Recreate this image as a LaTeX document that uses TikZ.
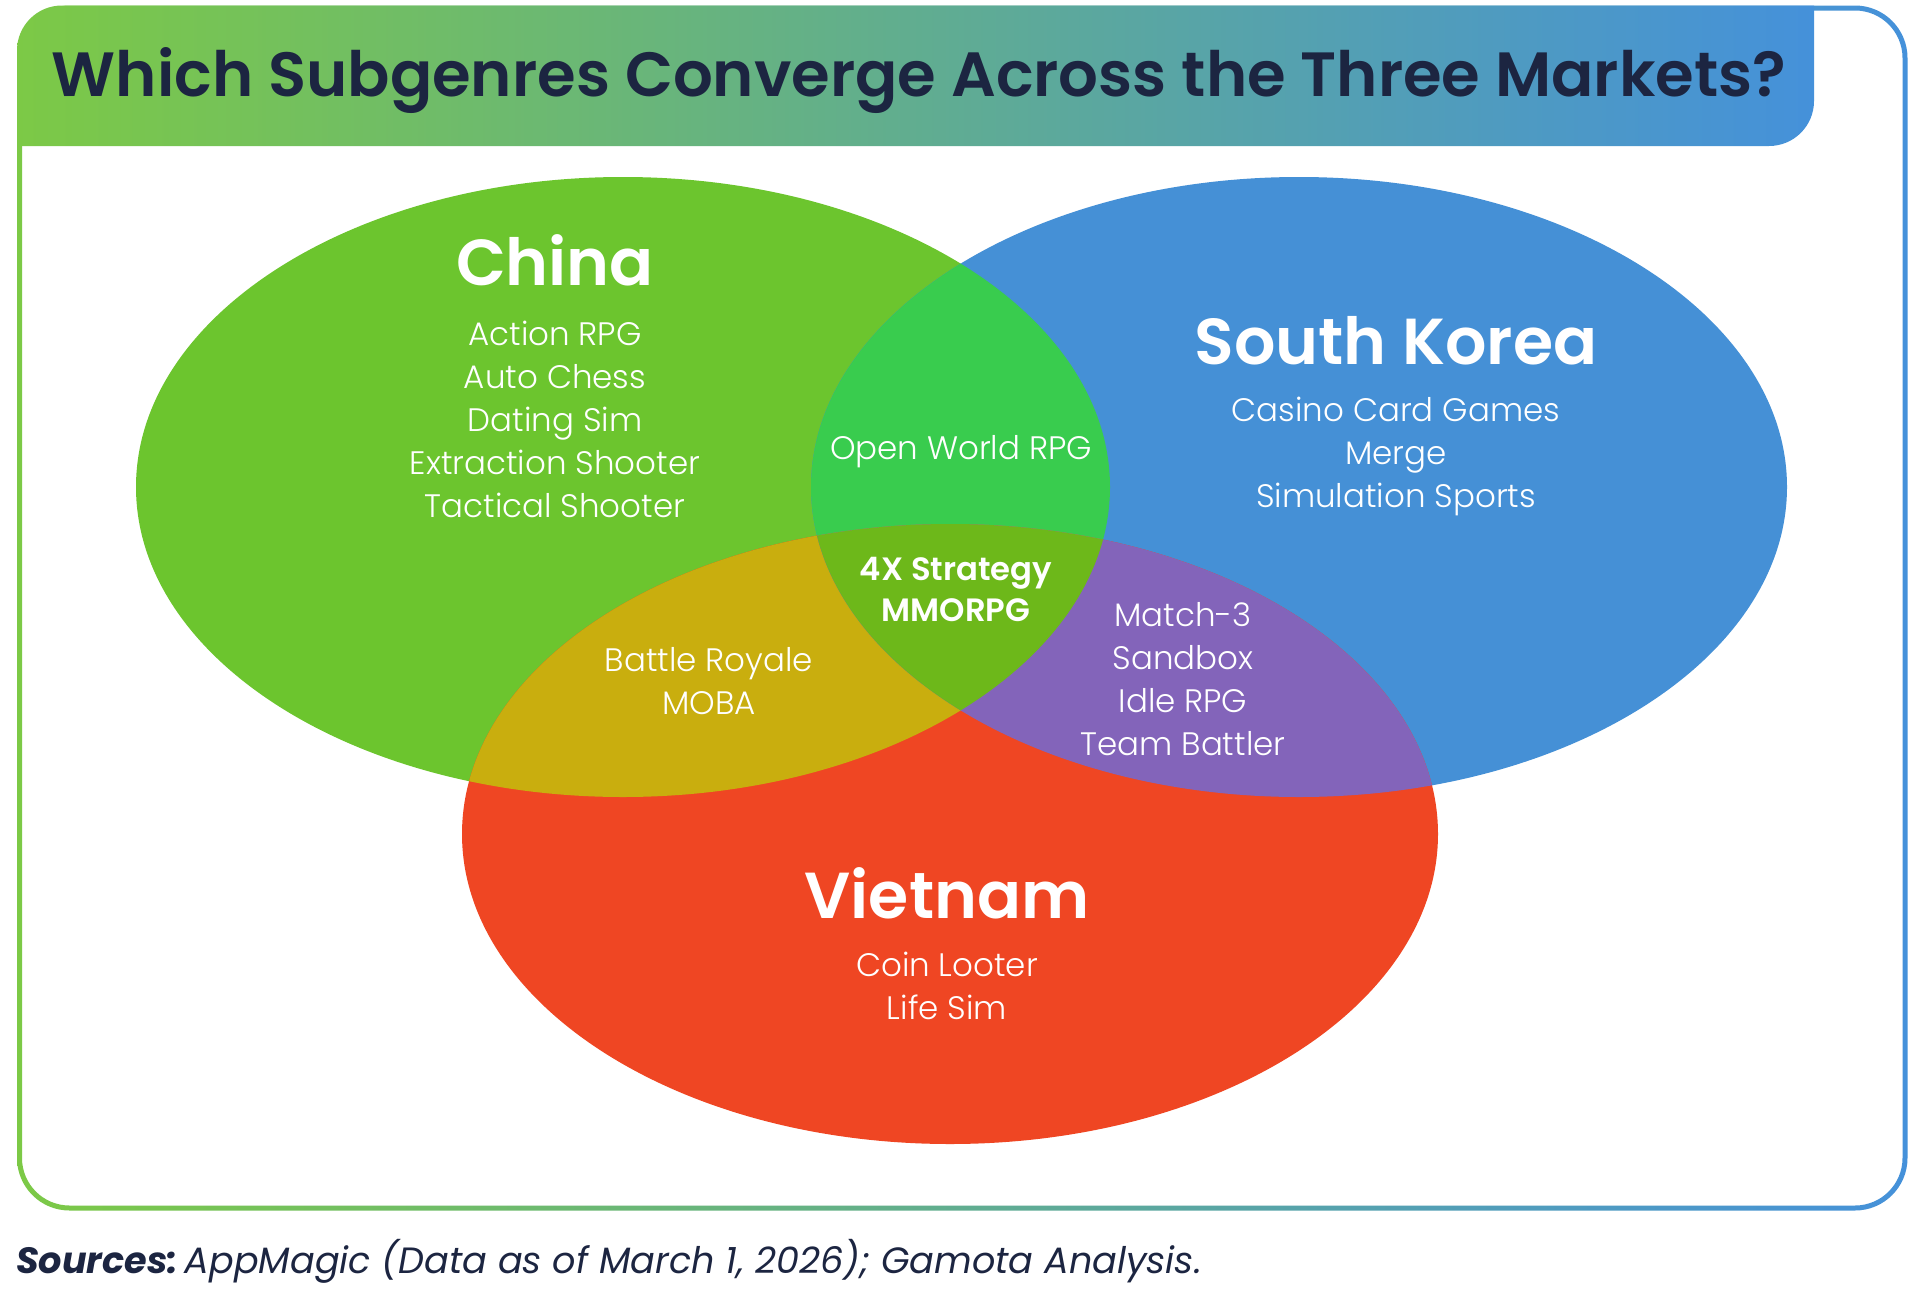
\documentclass[tikz,border=0pt]{standalone}
\usepackage{fontspec}
\setmainfont{Poppins}
\IfFontExistsTF{Poppins Light}{\newfontfamily\plight{Poppins Light}}{\newfontfamily\plight{Poppins}}
\IfFontExistsTF{Poppins SemiBold}{\newfontfamily\psemi{Poppins SemiBold}}{\def\psemi{\normalfont\bfseries}}
\definecolor{cChina}{RGB}{108,197,46}
\definecolor{cKorea}{RGB}{69,144,214}
\definecolor{cViet}{RGB}{239,70,35}
\definecolor{cCK}{RGB}{57,204,78}
\definecolor{cCV}{RGB}{201,174,14}
\definecolor{cKV}{RGB}{131,100,186}
\definecolor{cAll}{RGB}{109,184,26}
\definecolor{navy}{RGB}{28,37,65}
\definecolor{gL}{RGB}{124,201,70}
\definecolor{gM}{RGB}{82,178,150}
\definecolor{gR}{RGB}{69,145,218}
\tikzset{
  item/.style={text=white, align=center, inner sep=0pt, font=\plight\fontsize{32.5}{43}\selectfont},
  core/.style={text=white, align=center, inner sep=0pt, font=\psemi\fontsize{32.3}{41}\selectfont},
  country/.style={text=white, inner sep=0pt, anchor=base, font=\psemi\fontsize{65}{78}\selectfont},
  titletext/.style={text=navy, inner sep=0pt, anchor=base, font=\psemi\fontsize{62.5}{74}\selectfont},
  srctext/.style={text=navy, inner sep=0pt, anchor=base west, font=\fontsize{36.6}{42}\selectfont\itshape},
  grad/.style={left color=gL, middle color=gM, right color=gR, shading=axis},
}
\def\chinaE{(623,487) ellipse [x radius=487, y radius=310]}
\def\koreaE{(1299,487) ellipse [x radius=488, y radius=310]}
\def\vietE{(950,834) ellipse [x radius=488, y radius=310]}
\begin{document}
\begin{tikzpicture}[x=1pt,y=-1pt]
\useasboundingbox (0,0) rectangle (1909,1309);
\fill[white] (0,0) rectangle (1909,1309);
% frame (gradient stroke as ring)
\path[grad, even odd rule]
  [rounded corners=52.5] (17,5.5) rectangle (1907.5,1210.5)
  [rounded corners=47.5] (22,10.5) rectangle (1902.5,1205.5);
% banner
\path[grad] (17,146) -- (17,50.5) .. controls (17,25.6) and (37.1,5.5) .. (62,5.5)
  -- (1814,5.5) -- (1814,101) .. controls (1814,125.9) and (1793.9,146) .. (1769,146) -- cycle;
\node[titletext] (title) at (919,96) {Which Subgenres Converge Across the Three Markets?};
% ellipses
\fill[cChina] \chinaE;
\fill[cKorea] \koreaE;
\fill[cViet] \vietE;
\begin{scope}\clip \chinaE; \fill[cCK] \koreaE; \end{scope}
\begin{scope}\clip \chinaE; \fill[cCV] \vietE; \end{scope}
\begin{scope}\clip \koreaE; \fill[cKV] \vietE; \end{scope}
\begin{scope}\clip \chinaE; \clip \koreaE; \fill[cAll] \vietE; \end{scope}
% labels
\node[country] (china) at (555,285) {China};
\node[item] (chinaList) at (555,419) {Action RPG\\Auto Chess\\Dating Sim\\Extraction Shooter\\Tactical Shooter};
\node[country] (korea) at (1396,364) {South Korea};
\node[item] (koreaList) at (1396,456) {Casino Card Games\\Merge\\Simulation Sports};
\node[item, anchor=base] (openWorld) at (961,459) {Open World RPG};
\node[core] (allThree) at (956,589) {4X Strategy\\MMORPG};
\node[item] (cvList) at (709,681) {Battle Royale\\MOBA};
\node[item] (kvList) at (1183,679) {Match-3\\Sandbox\\Idle RPG\\Team Battler};
\node[country] (vietnam) at (947,918) {Vietnam};
\node[item] (vietList) at (947,986) {Coin Looter\\Life Sim};
\node[srctext] (sources) at (16,1273) {{\bfseries Sources:}\kern0.18em AppMagic (Data as of March 1, 2026); Gamota Analysis.};
\end{tikzpicture}
\end{document}
